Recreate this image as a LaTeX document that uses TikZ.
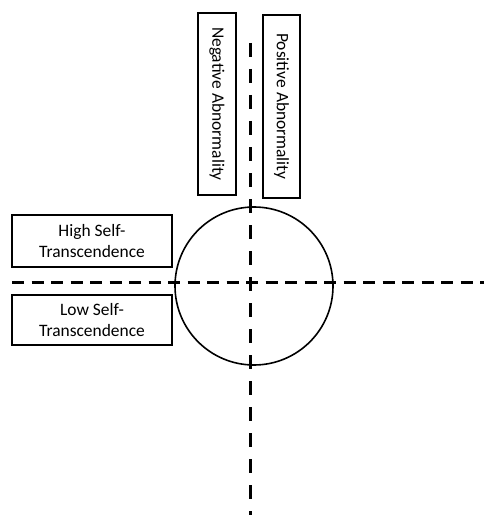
\documentclass[tikz,border=0pt]{standalone}
\usepackage{fontspec}
\setmainfont{Carlito}
\begin{document}
\begin{tikzpicture}[x=1bp,y=-1bp,
  label box/.style={draw=black, line width=1.6bp, inner sep=0pt, align=center,
    font=\fontsize{17.5}{22}\selectfont},
  axis line/.style={draw=black, line width=3bp},
  hdash/.style={dash pattern=on 12bp off 7.5bp},
  vdash/.style={dash pattern=on 14bp off 12bp},
  ring/.style={draw=black, line width=1.6bp, circle, minimum size=158bp, inner sep=0pt}]
\useasboundingbox (0,0) rectangle (484,515);

% axes
\coordinate (vtop) at (250,43);
\coordinate (vbot) at (250,515);
\coordinate (hleft) at (12,282);
\coordinate (hright) at (484,282);

% circle
\node[ring] (c) at (254,286) {};

\draw[axis line, vdash] (vtop) -- (vbot);
\draw[axis line, hdash] (hleft) -- (hright);

% vertical labels
\node[label box, minimum width=38bp, minimum height=182bp] (neg) at (217,104)
  {\rotatebox{-90}{Negative Abnormality}};
\node[label box, minimum width=37bp, minimum height=183bp] (pos) at (281.5,106.5)
  {\rotatebox{-90}{Positive Abnormality}};

% horizontal labels
\node[label box, minimum width=160bp, minimum height=52bp] (high) at (92,241)
  {High Self-\\Transcendence};
\node[label box, minimum width=160bp, minimum height=50bp] (low) at (92,320)
  {Low Self-\\Transcendence};
\end{tikzpicture}
\end{document}
